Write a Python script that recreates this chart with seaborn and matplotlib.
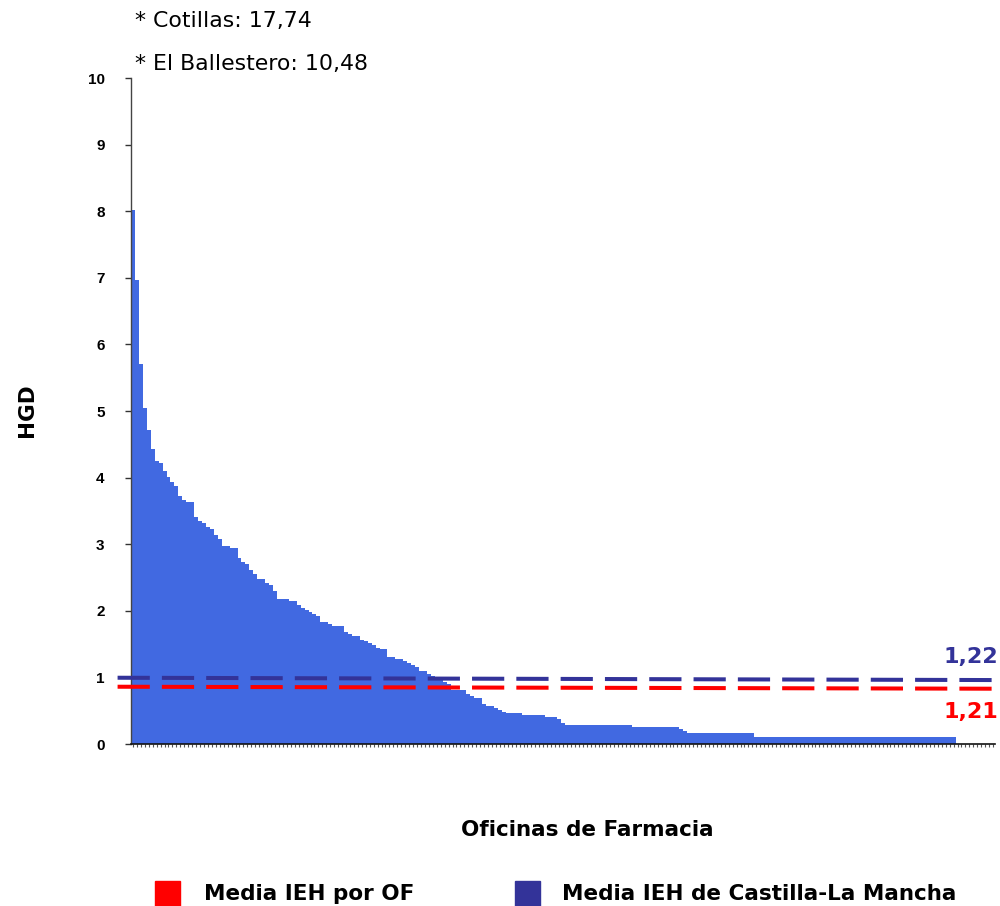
import numpy as np
import pandas as pd
import matplotlib
matplotlib.use("Agg")
import matplotlib.pyplot as plt
from matplotlib.patches import Rectangle
import seaborn as sns

# Valores (HGD por oficina de farmacia, ordenados)
niveles = [8.02, 6.97, 5.71, 5.05, 4.71, 4.43, 4.25, 4.22, 4.10, 4.01, 3.93, 3.87, 3.72, 3.66,
           3.63, 3.41, 3.35, 3.32, 3.26, 3.23, 3.14, 3.08, 2.97, 2.94, 2.79, 2.73, 2.70, 2.61,
           2.55, 2.48, 2.42, 2.39, 2.30, 2.18, 2.15, 2.09, 2.04, 2.01, 1.98, 1.95, 1.92, 1.83,
           1.80, 1.77, 1.68, 1.65, 1.62, 1.56, 1.55, 1.52, 1.49, 1.44, 1.43, 1.31, 1.28, 1.25,
           1.22, 1.19, 1.16, 1.10, 1.05, 1.02, 0.99, 0.96, 0.93, 0.90, 0.81, 0.75, 0.72, 0.69,
           0.60, 0.57, 0.54, 0.51, 0.48, 0.47, 0.44, 0.41, 0.38, 0.32, 0.29, 0.26, 0.23, 0.20,
           0.17, 0.10]
repeticiones = [1, 1, 1, 1, 1, 1, 1, 1, 1, 1, 1, 1, 1, 1,
                2, 1, 1, 1, 1, 1, 1, 1, 2, 2, 1, 1, 1, 1,
                1, 2, 1, 1, 1, 3, 2, 1, 1, 1, 1, 1, 1, 2,
                1, 3, 1, 1, 2, 1, 1, 1, 1, 1, 2, 2, 2, 1,
                1, 1, 1, 2, 1, 1, 1, 1, 1, 1, 4, 1, 1, 2,
                1, 2, 1, 1, 1, 4, 6, 3, 1, 1, 17, 12, 1, 1,
                17, 51]
n_oficinas_eje = 219

# Lineas de media (extremo izquierdo, extremo derecho)
media_of = [0.86, 0.83]
media_clm = [0.995, 0.96]
etiqueta_of = "1,21"
etiqueta_clm = "1,22"
notas = ["* Cotillas: 17,74", "* El Ballestero: 10,48"]

valores = np.repeat(niveles, repeticiones)
df = pd.DataFrame({"oficina": np.arange(len(valores)), "hgd": valores})

azul_barras = "#4169E1"
azul_media = "#333399"
rojo_media = "#FF0000"

sns.set_style("white")
plt.rcParams["font.family"] = ["DejaVu Sans"]
plt.rcParams["text.color"] = "black"
plt.rcParams["ytick.color"] = "black"

fig = plt.figure(figsize=(10, 9.06), dpi=100)
ax = fig.add_axes([0.131, 0.1788, 0.864, 0.7351])

sns.barplot(data=df, x="oficina", y="hgd", color=azul_barras, saturation=1,
            width=1.0, linewidth=0, ax=ax)

ax.set_xlim(-0.5, n_oficinas_eje - 0.5)
ax.set_ylim(0, 10)
ax.set_yticks(range(0, 11))
ax.set_yticklabels([str(i) for i in range(0, 11)], fontweight="bold",
                   fontsize=11, family="Liberation Sans", color="black")
ax.set_xticks(np.arange(n_oficinas_eje))
ax.set_xticklabels([])
ax.tick_params(axis="y", length=4, width=1, color="#333333", pad=15, left=True)
ax.tick_params(axis="x", length=2.5, width=0.8, color="#555555", bottom=True)

for s in ["top", "right"]:
    ax.spines[s].set_visible(False)
ax.spines["left"].set_color("#444444")
ax.spines["bottom"].set_color("#111111")
ax.spines["left"].set_linewidth(1)
ax.spines["bottom"].set_linewidth(1.2)

ax.set_xlabel("")
ax.set_ylabel("")

# lineas de media discontinuas
x_lin = [-3.9, 219.7]
ax.plot(x_lin, media_clm, color=azul_media, lw=2.9, dashes=(8, 3), clip_on=False,
        dash_capstyle="butt", zorder=5)
ax.plot(x_lin, media_of, color=rojo_media, lw=2.9, dashes=(8, 3), clip_on=False,
        dash_capstyle="butt", zorder=5)

fig.text(0.998, 1 - 657 / 906, etiqueta_clm, color=azul_media, fontsize=16,
         fontweight="bold", ha="right", va="center")
fig.text(0.998, 1 - 712 / 906, etiqueta_of, color=rojo_media, fontsize=16,
         fontweight="bold", ha="right", va="center")

# notas de valores fuera de escala
fig.text(0.135, 1 - 21 / 906, notas[0], fontsize=15.8, ha="left", va="center")
fig.text(0.135, 1 - 64 / 906, notas[1], fontsize=15.8, ha="left", va="center")

# titulos de ejes
fig.text(0.027, 1 - 410 / 906, "HGD", fontsize=15.5, fontweight="bold",
         rotation=90, ha="center", va="center")
fig.text(0.587, 1 - 830 / 906, "Oficinas de Farmacia", fontsize=15.5, fontweight="bold",
         ha="center", va="center")

# leyenda
fig.patches.append(Rectangle((0.155, 0.0), 0.025, 25 / 906, transform=fig.transFigure,
                             color=rojo_media))
fig.text(0.204, 1 - 894 / 906, "Media IEH por OF", fontsize=15.5, fontweight="bold",
         ha="left", va="center")
fig.patches.append(Rectangle((0.515, 0.0), 0.025, 25 / 906, transform=fig.transFigure,
                             color=azul_media))
fig.text(0.562, 1 - 894 / 906, "Media IEH de Castilla-La Mancha", fontsize=15.5,
         fontweight="bold", ha="left", va="center")

fig.savefig("out.png", dpi=100)
